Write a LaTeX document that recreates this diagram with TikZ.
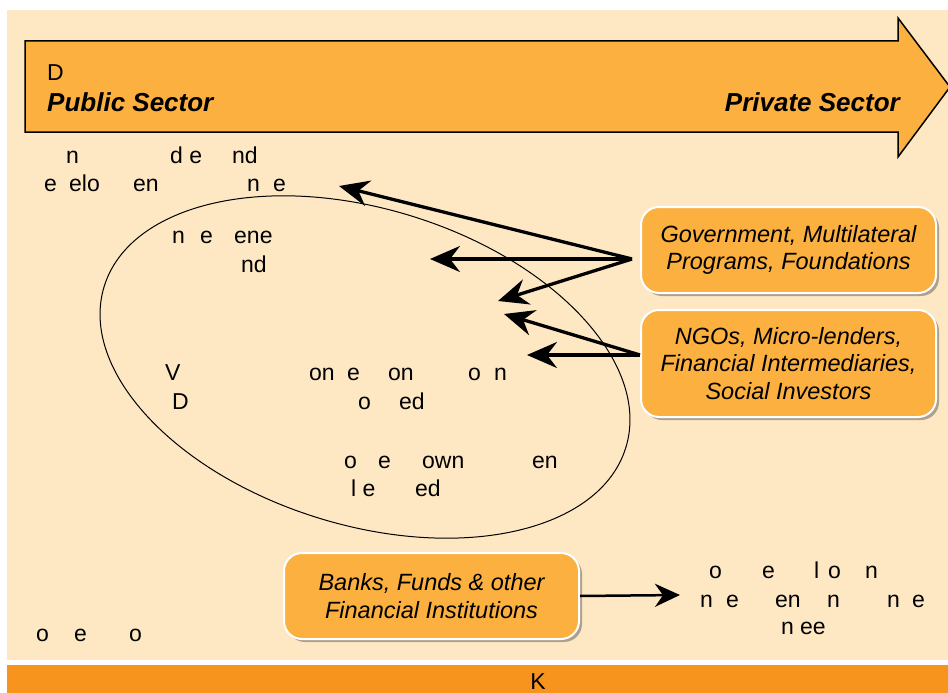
\documentclass[tikz,border=0pt]{standalone}
\usepackage{fontspec}
\setmainfont{Liberation Sans}
\usetikzlibrary{arrows.meta,shadows}
\definecolor{peach}{RGB}{254,232,196}
\definecolor{tangerine}{RGB}{251,176,64}
\definecolor{rust}{RGB}{247,148,30}

\begin{document}
\begin{tikzpicture}[x=1pt,y=-1pt,
  frag/.style={anchor=base west,inner sep=0pt,font=\fontsize{23}{27}\selectfont},
  sector/.style={inner sep=0pt,font=\fontsize{26}{30}\selectfont\bfseries\itshape},
  actor/.style={draw=white,line width=2pt,fill=tangerine,rounded corners=18pt,
    minimum width=295pt,align=center,font=\fontsize{23.5}{27.5}\selectfont\itshape,
    drop shadow={shadow xshift=3pt,shadow yshift=-3pt,opacity=.45,fill=black!70}},
  flow/.style={line width=3.3pt,-{Stealth[length=30pt,width=26pt,inset=10pt]}},
  thinflow/.style={line width=2.5pt,-{Stealth[length=25pt,width=23pt,inset=8pt]}}]
\useasboundingbox (0,0) rectangle (948,693);
\fill[peach] (7,10) rectangle (948,660);
\fill[rust] (7,665) rectangle (948,693);
\draw[fill=tangerine,line width=1.5pt] (25,41) -- (898,41) -- (898,18) -- (950,87)
     -- (898,157) -- (898,132) -- (25,132) -- cycle;

\node[frag] (dtop) at (47,81) {D};
\node[sector,anchor=base west] (pub) at (47,111) {Public Sector};
\node[sector,anchor=base east] (priv) at (900,111) {Private Sector};
\node[frag,anchor=base] (kbar) at (538,689) {K};

\foreach \x/\y/\t [count=\i] in {66/163/n, 170/163/d e, 232/163/nd,
    44/191/e, 69/191/elo, 133/191/en, 247/191/n, 273/191/e,
    172/243/n, 200/243/e, 234/243/ene, 241/272/nd,
    165/380/V, 309/380/on, 347/380/e, 388/380/on, 468/380/o, 494/380/n,
    172/409/D, 358/409/o, 399/409/ed,
    344/468/o, 378/468/e, 422/468/own, 532/468/en,
    351/496/l e, 415/496/ed,
    709/578/o, 762/578/e, 814/578/l, 828/578/o, 865/578/n,
    700/607/n, 726/607/e, 775/607/en, 827/607/n, 887/607/n, 912/607/e,
    781/634/n, 800/634/ee,
    36/641/o, 74/641/e, 129/641/o}
  \node[frag] (w\i) at (\x,\y) {\t};

\draw[line width=1pt] (365,367) ellipse [x radius=273,y radius=158,rotate=-17.2];

\node[actor,minimum height=86pt] (gov) at (788.5,250)
  {Government, Multilateral\\Programs, Foundations};
\node[actor,minimum height=107pt] (ngo) at (788.5,363.5)
  {NGOs, Micro-lenders,\\Financial Intermediaries,\\Social Investors};
\node[actor,minimum height=86pt] (banks) at (431.5,596)
  {Banks, Funds \& other\\Financial Institutions};

\coordinate (gsrc) at ([shift={(-8,9)}]gov.west);
\coordinate (nsrc) at ([yshift=8.5pt]ngo.west);
\coordinate (g1) at (339,186);
\coordinate (g2) at (430,259);
\coordinate (g3) at (498,301);
\coordinate (n1) at (504,314);
\coordinate (n2) at (527,355);
\coordinate (bk) at (680,595);
\draw[flow] (gsrc) -- (g1);
\draw[flow] (gsrc) -- (g2);
\draw[flow] (gsrc) -- (g3);
\draw[flow] (nsrc) -- (n1);
\draw[flow] (nsrc) -- (n2);
\draw[thinflow] (banks.east) -- (bk);
\end{tikzpicture}
\end{document}
